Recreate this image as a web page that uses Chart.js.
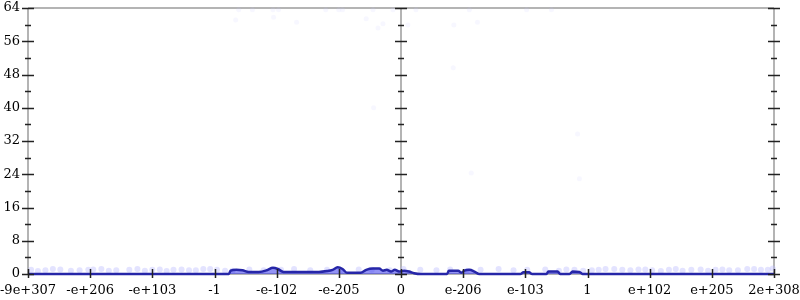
<!DOCTYPE html>
<html>
<head>
<meta charset="utf-8">
<script src="https://cdn.jsdelivr.net/npm/chart.js@4"></script>
<style>
  body { margin: 0; background: #fff; }
  #wrap { width: 800px; height: 300px; }
</style>
</head>
<body>
<div id="wrap"><canvas id="histChart"></canvas></div>
<script>
// tick labels, one per unit on the x axis (-6 .. 6)
const xTickLabels = ["-9e+307", "-e+206", "-e+103", "-1", "-e-102", "-e-205", "0",
  "e-206", "e-103", "1", "e+102", "e+205", "2e+308"];
const yTicks = [0, 8, 16, 24, 32, 40, 48, 56, 64];

// histogram line
const lineX = [-6, -2.77, -2.74, -2.65, -2.55, -2.45, -2.29, -2.16, -2.06, -1.98, -1.89,
  -1.68, -1.32, -1.19, -1.1, -1.02, -0.94, -0.87, -0.65, -0.56, -0.45, -0.35, -0.29,
  -0.23, -0.16, -0.1, -0.03, 0.05, 0.13, 0.21, 0.32, 0.74, 0.77, 0.92, 0.97, 1.02, 1.1,
  1.19, 1.26, 1.92, 1.97, 2.06, 2.11, 2.34, 2.37, 2.52, 2.56, 2.71, 2.76, 2.87, 2.92, 6];
const lineY = [0, 0, 0.8, 1.0, 0.9, 0.5, 0.5, 0.9, 1.5, 1.2, 0.5,
  0.5, 0.5, 0.7, 1.0, 1.6, 1.2, 0.3, 0.3, 1.0, 1.3, 1.3, 0.8,
  1.0, 0.6, 1.0, 0.6, 0.8, 0.6, 0.2, 0, 0, 0.8, 0.8, 0.3, 0.8, 1.0,
  0.5, 0, 0, 0.4, 0.4, 0, 0, 0.6, 0.6, 0, 0, 0.6, 0.5, 0, 0];

// faint samples near the bottom
const bandX = [-5.95, -5.72, -5.48, -5.31, -5.03, -4.82, -4.58, -4.37, -4.12, -3.88,
  -3.66, -3.41, -3.18, -2.96, -2.71, -2.44, -2.21, -1.93, -1.72, -1.46, -1.19, -0.97,
  -0.68, -0.47, -0.18, 0.04, 0.31, 0.57, 0.79, 1.06, 1.28, 1.57, 1.81, 2.03, 2.32, 2.54,
  2.79, 3.07, 3.29, 3.56, 3.82, 4.04, 4.31, 4.53, 4.82, 5.06, 5.28, 5.57, 5.79, 5.98,
  -5.84, -5.6, -5.17, -4.95, -4.7, -4.24, -4.0, -3.77, -3.53, -3.3, -3.07, -2.83,
  2.66, 2.93, 3.18, 3.43, 3.69, 3.93, 4.18, 4.42, 4.67, 4.94, 5.17, 5.42, 5.68, 5.9];
const bandY = [1.0, 0.9, 1.1, 0.8, 1.0, 1.2, 0.9, 1.0, 0.8, 1.1,
  1.0, 0.9, 1.2, 1.0, 0.8, 1.1, 0.9, 1.0, 1.2, 0.9, 1.0, 0.8,
  1.1, 1.0, 0.9, 1.2, 1.0, 0.9, 1.1, 0.8, 1.0, 1.2, 0.9, 1.0, 1.1, 0.8,
  1.0, 0.9, 1.2, 1.0, 1.1, 0.9, 1.0, 0.8, 1.1, 1.0, 0.9, 1.2, 1.0, 1.3,
  0.7, 1.2, 0.9, 1.1, 0.8, 1.2, 1.0, 0.7, 1.1, 0.9, 1.2, 0.8,
  1.1, 0.8, 1.0, 1.2, 0.9, 1.1, 0.7, 1.2, 1.0, 0.8, 1.1, 0.9, 1.2, 1.0];

// very faint outliers higher up
const outlierX = [-2.61, -2.39, -2.06, -1.97, -1.21, -1.0, -0.94, -0.45, -0.13, 0.24,
  1.1, 2.02, 2.42, -2.66, -2.05, -1.68, -0.56, -0.37, -0.29, 0.11, 0.85, 1.23,
  2.84, 2.87, -0.44, 0.84, 1.13];
const outlierY = [63.6, 63.6, 63.6, 63.6, 63.6, 63.6, 63.6, 63.6, 63.6, 63.6,
  63.6, 63.6, 63.6, 61.1, 61.8, 60.6, 61.4, 59.2, 60.2, 59.9, 59.9, 60.6,
  33.7, 22.9, 40, 49.6, 24.3];

const toPoints = (xs, ys) => xs.map((x, i) => ({ x: x, y: ys[i] }));

const axisGray = "#b4b4b4";

// gnuplot style axes: gray lines, ticks crossing the lines
const axesPlugin = {
  id: "gnuAxes",
  beforeDatasetsDraw(chart) {
    const { ctx, chartArea: a, scales } = chart;
    const xMid = scales.x.getPixelForValue(0);
    ctx.save();
    ctx.strokeStyle = axisGray;
    ctx.lineWidth = 2;
    ctx.beginPath();
    ctx.moveTo(a.left, a.top); ctx.lineTo(a.right, a.top);
    ctx.moveTo(a.left, a.top); ctx.lineTo(a.left, a.bottom);
    ctx.moveTo(xMid, a.top); ctx.lineTo(xMid, a.bottom);
    ctx.moveTo(a.right, a.top); ctx.lineTo(a.right, a.bottom);
    ctx.moveTo(a.left, a.bottom); ctx.lineTo(a.right, a.bottom);
    ctx.stroke();
    ctx.restore();
  },
  afterDatasetsDraw(chart) {
    const { ctx, chartArea: a, scales } = chart;
    const xs = [a.left, scales.x.getPixelForValue(0), a.right];
    ctx.save();
    ctx.strokeStyle = "#222";
    ctx.lineWidth = 1.5;
    ctx.beginPath();
    for (let v = 0; v <= 64; v += 4) {
      const py = Math.round(scales.y.getPixelForValue(v)) + 0.5;
      const half = v % 8 === 0 ? 6 : 3;
      xs.forEach((px) => {
        ctx.moveTo(px - half, py);
        ctx.lineTo(px + half, py);
      });
    }
    for (let i = -6; i <= 6; i++) {
      const px = Math.round(scales.x.getPixelForValue(i)) + 0.5;
      ctx.moveTo(px, a.bottom - 5);
      ctx.lineTo(px, a.bottom + 4);
    }
    ctx.stroke();
    ctx.restore();
  },
};

new Chart(document.getElementById("histChart"), {
  type: "scatter",
  data: {
    datasets: [
      {
        type: "line",
        data: toPoints(lineX, lineY),
        borderColor: "#2626a8",
        borderWidth: 2.5,
        backgroundColor: "rgba(40, 40, 235, 0.5)",
        fill: "origin",
        pointRadius: 0,
        tension: 0.3,
        cubicInterpolationMode: "monotone",
        clip: 4,
        order: 1,
      },
      {
        data: toPoints(bandX, bandY),
        backgroundColor: "rgba(185, 185, 255, 0.4)",
        borderWidth: 0,
        pointRadius: 3,
        clip: 4,
        order: 2,
      },
      {
        data: toPoints(outlierX, outlierY),
        backgroundColor: "rgba(200, 200, 255, 0.15)",
        borderWidth: 0,
        pointRadius: 2.5,
        clip: 4,
        order: 3,
      },
    ],
  },
  options: {
    responsive: true,
    maintainAspectRatio: false,
    animation: false,
    layout: { padding: { top: 8, right: 26, left: 0, bottom: 0 } },
    plugins: { legend: { display: false }, tooltip: { enabled: false } },
    scales: {
      x: {
        type: "linear",
        min: -6,
        max: 6,
        afterBuildTicks: (scale) => {
          scale.ticks = xTickLabels.map((_, i) => ({ value: i - 6 }));
        },
        afterFit: (scale) => {
          scale.height = 26;
          scale.paddingLeft = 0;
          scale.paddingRight = 0;
        },
        grid: { display: false, drawTicks: false, tickLength: 0 },
        border: { display: false },
        ticks: {
          padding: 9,
          maxRotation: 0,
          autoSkip: false,
          color: "#000",
          font: { family: "DejaVu Serif", size: 13 },
          callback: (v) => xTickLabels[v + 6],
        },
      },
      y: {
        min: 0,
        max: 64,
        afterBuildTicks: (scale) => {
          scale.ticks = yTicks.map((v) => ({ value: v }));
        },
        afterFit: (scale) => {
          scale.width = 28;
          scale.paddingTop = 0;
          scale.paddingBottom = 0;
        },
        grid: { display: false, drawTicks: false, tickLength: 0 },
        border: { display: false },
        ticks: {
          padding: 8,
          color: "#000",
          font: { family: "DejaVu Serif", size: 13 },
        },
      },
    },
  },
  plugins: [axesPlugin],
});
</script>
</body>
</html>
